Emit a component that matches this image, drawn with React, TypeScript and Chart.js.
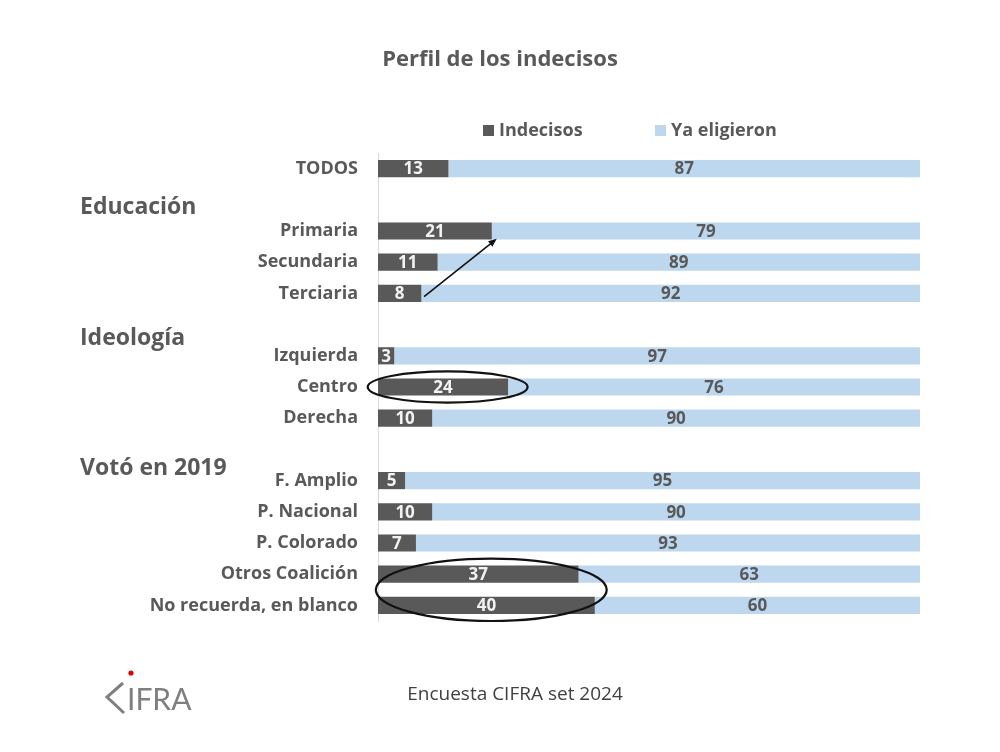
import { useEffect, useRef } from "react";
import { Chart, registerables } from "chart.js";

Chart.register(...registerables);

// rows of the chart; blank rows leave room for the group headers
const categories = [
  "TODOS",
  "",
  "Primaria",
  "Secundaria",
  "Terciaria",
  "",
  "Izquierda",
  "Centro",
  "Derecha",
  "",
  "F. Amplio",
  "P. Nacional",
  "P. Colorado",
  "Otros Coalición",
  "No recuerda, en blanco",
];

const indecisos = [13, null, 21, 11, 8, null, 3, 24, 10, null, 5, 10, 7, 37, 40];
const yaEligieron = [87, null, 79, 89, 92, null, 97, 76, 90, null, 95, 90, 93, 63, 60];

const seriesNames = ["Indecisos", "Ya eligieron"];

// group headers, placed at a (fractional) row index
const groupHeaders = ["Educación", "Ideología", "Votó en 2019"];
const groupRows = [1.25, 5.45, 9.6];

const DARK = "#595959";
const LIGHT = "#BDD7EE";
const TEXT = "#595959";
const FONT = "'Open Sans', Lato, sans-serif";

// hand-drawn marks on the original slide, in value / row units
const ellipses = [
  { x0: -1.9, x1: 27.6, y0: 6.5, y1: 7.5 },
  { x0: -0.4, x1: 42.2, y0: 12.5, y1: 14.5 },
];
const arrow = { from: [8.5, 4.1], to: [21.9, 2.25] };

const overlayPlugin = {
  id: "overlay",
  afterDatasetsDraw(chart: any) {
    const { ctx } = chart;
    const xs = chart.scales.x;
    const ys = chart.scales.y;

    // value labels inside the segments
    ctx.save();
    ctx.font = `bold 17px ${FONT}`;
    ctx.textAlign = "center";
    ctx.textBaseline = "middle";
    chart.data.datasets.forEach((ds: any, di: number) => {
      const meta = chart.getDatasetMeta(di);
      meta.data.forEach((el: any, i: number) => {
        const v = ds.data[i];
        if (v == null) return;
        ctx.fillStyle = di === 0 ? "#f2f2f2" : TEXT;
        ctx.fillText(String(v), (el.x + el.base) / 2, el.y + 1);
      });
    });
    ctx.restore();

    // ellipses
    ctx.save();
    ctx.strokeStyle = "#111";
    ctx.lineWidth = 2.2;
    ellipses.forEach((e) => {
      const a = xs.getPixelForValue(e.x0);
      const b = xs.getPixelForValue(e.x1);
      const c = ys.getPixelForValue(e.y0);
      const d = ys.getPixelForValue(e.y1);
      ctx.beginPath();
      ctx.ellipse((a + b) / 2, (c + d) / 2, Math.abs(b - a) / 2, Math.abs(d - c) / 2, 0, 0, Math.PI * 2);
      ctx.stroke();
    });

    // arrow
    const x1 = xs.getPixelForValue(arrow.from[0]);
    const y1 = ys.getPixelForValue(arrow.from[1]);
    const x2 = xs.getPixelForValue(arrow.to[0]);
    const y2 = ys.getPixelForValue(arrow.to[1]);
    const ang = Math.atan2(y2 - y1, x2 - x1);
    ctx.lineWidth = 1.6;
    ctx.beginPath();
    ctx.moveTo(x1, y1);
    ctx.lineTo(x2 - 6 * Math.cos(ang), y2 - 6 * Math.sin(ang));
    ctx.stroke();
    ctx.fillStyle = "#111";
    ctx.beginPath();
    ctx.moveTo(x2, y2);
    ctx.lineTo(x2 - 9 * Math.cos(ang - 0.4), y2 - 9 * Math.sin(ang - 0.4));
    ctx.lineTo(x2 - 9 * Math.cos(ang + 0.4), y2 - 9 * Math.sin(ang + 0.4));
    ctx.closePath();
    ctx.fill();
    ctx.restore();
  },
  afterDraw(chart: any) {
    const { ctx } = chart;
    const ys = chart.scales.y;
    ctx.save();
    ctx.textBaseline = "middle";

    // title
    ctx.fillStyle = TEXT;
    ctx.font = `bold 22px ${FONT}`;
    ctx.textAlign = "center";
    ctx.fillText("Perfil de los indecisos", 500, 60);

    // group headers
    ctx.font = `bold 23px ${FONT}`;
    ctx.textAlign = "left";
    groupHeaders.forEach((h, i) => {
      ctx.fillText(h, 80, ys.getPixelForValue(groupRows[i]));
    });

    // legend
    ctx.font = `bold 18px ${FONT}`;
    const legendX = [483, 655];
    [DARK, LIGHT].forEach((c, i) => {
      ctx.fillStyle = c;
      ctx.fillRect(legendX[i], 125, 11, 11);
      ctx.fillStyle = TEXT;
      ctx.fillText(seriesNames[i], legendX[i] + 16, 131);
    });

    // footer
    ctx.fillStyle = "#404040";
    ctx.font = `19px ${FONT}`;
    ctx.textAlign = "center";
    ctx.fillText("Encuesta CIFRA set 2024", 515, 695);

    // CIFRA logo
    ctx.strokeStyle = "#7f7f7f";
    ctx.lineWidth = 3;
    ctx.beginPath();
    ctx.moveTo(123, 683);
    ctx.lineTo(107, 697);
    ctx.lineTo(124, 713);
    ctx.stroke();
    ctx.fillStyle = "#7f7f7f";
    ctx.font = `30px 'Liberation Sans Narrow', Lato, sans-serif`;
    ctx.textAlign = "left";
    ctx.textBaseline = "alphabetic";
    ctx.fillText("IFRA", 127, 710);
    ctx.fillStyle = "#e00000";
    ctx.beginPath();
    ctx.arc(131, 673, 2.6, 0, Math.PI * 2);
    ctx.fill();
    ctx.restore();
  },
};

export default function App() {
  const canvasRef = useRef<HTMLCanvasElement>(null);

  useEffect(() => {
    const ctx = canvasRef.current?.getContext("2d");
    if (!ctx) return;

    const chart = new Chart(ctx, {
      type: "bar",
      data: {
        labels: categories,
        datasets: [
          {
            label: seriesNames[0],
            data: indecisos,
            backgroundColor: DARK,
            categoryPercentage: 1,
            barPercentage: 0.55,
          },
          {
            label: seriesNames[1],
            data: yaEligieron,
            backgroundColor: LIGHT,
            categoryPercentage: 1,
            barPercentage: 0.55,
          },
        ],
      },
      options: {
        indexAxis: "y",
        responsive: false,
        animation: false,
        layout: { padding: { top: 153, right: 80, bottom: 131, left: 0 } },
        scales: {
          x: { stacked: true, min: 0, max: 100, display: false },
          y: {
            stacked: true,
            grid: { display: false },
            border: { display: true, color: "#d9d9d9", width: 1 },
            ticks: { color: TEXT, font: { family: FONT, size: 18, weight: "bold" }, padding: 12 },
            afterFit: (scale: any) => {
              scale.width = 378;
            },
          },
        },
        plugins: {
          legend: { display: false },
          tooltip: { enabled: false },
          title: { display: false },
        },
      },
      plugins: [overlayPlugin],
    });

    return () => chart.destroy();
  }, []);

  return (
    <div style={{ position: "fixed", left: 0, top: 0, width: 1000, height: 752, background: "#fff" }}>
      <canvas ref={canvasRef} width={1000} height={752} />
    </div>
  );
}
